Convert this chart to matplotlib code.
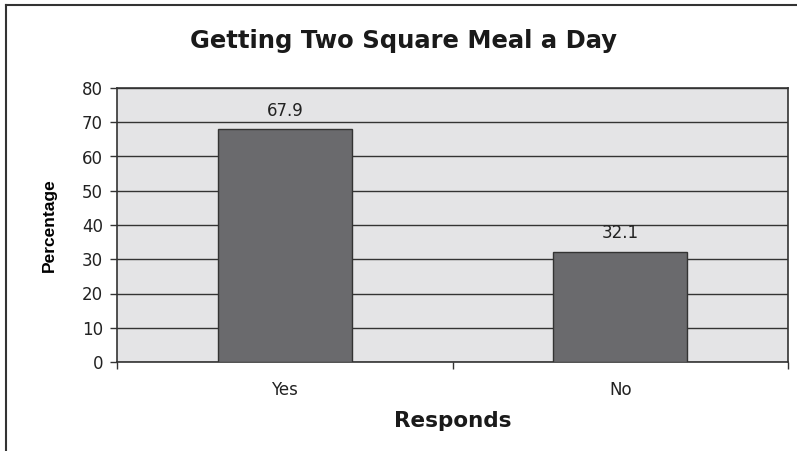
import matplotlib
matplotlib.use("Agg")
import matplotlib.pyplot as plt
from matplotlib.lines import Line2D

categories = ["Yes", "No"]
values = [67.9, 32.1]
yticks = [0, 10, 20, 30, 40, 50, 60, 70, 80]

plt.rcParams["font.family"] = ["DejaVu Sans"]

fig = plt.figure(figsize=(7.97, 4.51), dpi=100)
ax = fig.add_axes([117 / 797, 89 / 451, 671 / 797, 274 / 451])
ax.set_facecolor("#e4e4e6")

x = list(range(len(categories)))
ax.bar(x, values, width=0.4, color="#6a6a6d", edgecolor="#333333", linewidth=1, zorder=3)

for xi, v in zip(x, values):
    ax.annotate(f"{v}", (xi, v), xytext=(0, 7), textcoords="offset points",
                ha="center", va="bottom", fontsize=12, color="#222222")

ax.set_xlim(-0.5, 1.5)
ax.set_ylim(0, 80)
ax.set_yticks(yticks)
ax.yaxis.grid(True, color="#333333", linewidth=1, zorder=1)
ax.set_axisbelow(True)

ax.set_xticks(x)
ax.set_xticklabels(categories, fontsize=12, color="#222222")
ax.tick_params(axis="x", which="major", length=0, pad=14)
ax.set_xticks([-0.5, 0.5, 1.5], minor=True)
ax.tick_params(axis="x", which="minor", length=5, width=1, color="#333333", direction="out")
ax.tick_params(axis="y", length=5, width=1, color="#333333", labelsize=12, labelcolor="#222222", pad=5)

for s in ax.spines.values():
    s.set_color("#333333")
    s.set_linewidth(1.2)

ax.set_ylabel("Percentage", fontsize=12.5, fontweight="bold",
              family=["Liberation Sans", "DejaVu Sans"], labelpad=18)
ax.set_xlabel("Responds", fontsize=15.5, fontweight="bold", labelpad=8, color="#1a1a1a")

fig.text(404 / 797, 1 - 41 / 451, "Getting Two Square Meal a Day", ha="center", va="center",
         fontsize=17.5, fontweight="bold", color="#1a1a1a")

# outer frame (cropped: only top and left edges visible)
fig.add_artist(Line2D([6 / 797, 1], [1 - 5 / 451, 1 - 5 / 451], transform=fig.transFigure,
                      color="#333333", linewidth=1.5))
fig.add_artist(Line2D([6 / 797, 6 / 797], [0, 1 - 5 / 451], transform=fig.transFigure,
                      color="#333333", linewidth=1.5))

fig.savefig("out.png", dpi=100)
